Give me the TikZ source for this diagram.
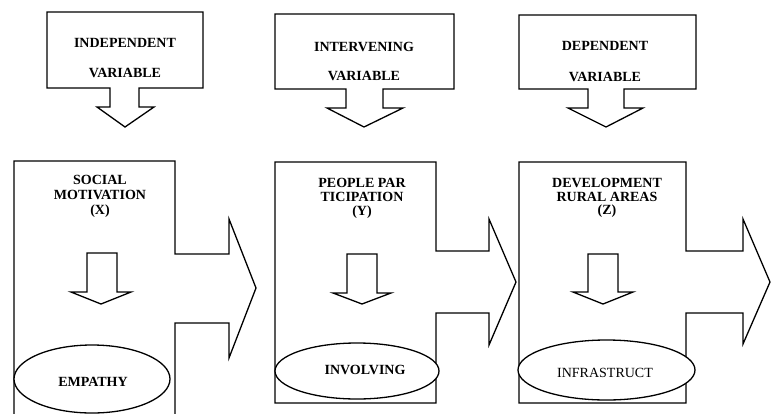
\documentclass[tikz,border=0pt]{standalone}
\usepackage{fontspec}
\setmainfont{Liberation Serif}
\begin{document}
\begin{tikzpicture}[x=1pt,y=-1pt,line join=miter,
  shp/.style={draw=black,line width=1.3pt,fill=white},
  lbl/.style={font=\fontsize{14}{15}\selectfont\bfseries,inner sep=0pt,anchor=center},
  lbln/.style={font=\fontsize{14}{15}\selectfont,inner sep=0pt,anchor=center}]
\useasboundingbox (0,0) rectangle (771,413);
% top callouts
\draw[shp] (47,12) -- (203,12) -- (203,88) -- (139,88) -- (139,107) -- (154,107) -- (125,127) -- (97,107) -- (110,107) -- (110,88) -- (47,88) -- cycle;
\draw[shp] (275,14) -- (454,14) -- (454,89) -- (383,89) -- (383,108) -- (403,108) -- (364,127) -- (327,108) -- (346,108) -- (346,89) -- (275,89) -- cycle;
\draw[shp] (519,15) -- (696,15) -- (696,89) -- (624,89) -- (624,108) -- (643,108) -- (606,127) -- (568,108) -- (588,108) -- (588,89) -- (519,89) -- cycle;
\node[lbl] (t1a) at (125,43) {INDEPENDENT};
\node[lbl] (t1b) at (125,73) {VARIABLE};
\node[lbl] (t2a) at (364,47) {INTERVENING};
\node[lbl] (t2b) at (364,76) {VARIABLE};
\node[lbl] (t3a) at (605,46) {DEPENDENT};
\node[lbl] (t3b) at (605,77) {VARIABLE};
% bottom panels
\draw[shp] (14,415) -- (14,161) -- (175,161) -- (175,254) -- (229,254) -- (229,219) -- (256,288) -- (229,358) -- (229,323) -- (175,323) -- (175,415);
\draw[shp] (275,403) -- (275,162) -- (436,162) -- (436,251) -- (489,251) -- (489,219) -- (516,282) -- (489,345) -- (489,313) -- (436,313) -- (436,403) -- cycle;
\draw[shp] (519,403) -- (519,162) -- (686,162) -- (686,251) -- (743,251) -- (743,219) -- (770,282) -- (743,344) -- (743,313) -- (686,313) -- (686,403) -- cycle;
% small arrows
\draw[shp] (87,253) -- (117,253) -- (117,292) -- (131,292) -- (101,304) -- (71,292) -- (87,292) -- cycle;
\draw[shp] (347,254) -- (377,254) -- (377,293) -- (391,293) -- (362,304) -- (333,293) -- (347,293) -- cycle;
\draw[shp] (588,254) -- (618,254) -- (618,292) -- (633,292) -- (603,304) -- (573,292) -- (588,292) -- cycle;
% ellipses
\draw[shp] (92,379) ellipse [x radius=78, y radius=34];
\draw[shp] (357,371) ellipse [x radius=82, y radius=28];
\draw[shp] (606.5,370) ellipse [x radius=88.5, y radius=30];
% texts
\node[lbl] (x1) at (100,180) {SOCIAL};
\node[lbl] (x2) at (100,195) {MOTIVATION};
\node[lbl] (x3) at (100,211) {(X)};
\node[lbl] (y1) at (362,183) {PEOPLE PAR};
\node[lbl] (y2) at (362,197) {TICIPATION};
\node[lbl] (y3) at (362,212) {(Y)};
\node[lbl] (z1) at (607,183) {DEVELOPMENT};
\node[lbl] (z2) at (607,197) {RURAL AREAS};
\node[lbl] (z3) at (607,211) {(Z)};
\node[lbl] (e1) at (93,382) {EMPATHY};
\node[lbl] (e2) at (365,370) {INVOLVING};
\node[lbln] (e3) at (605,373) {INFRASTRUCT};
\end{tikzpicture}
\end{document}
